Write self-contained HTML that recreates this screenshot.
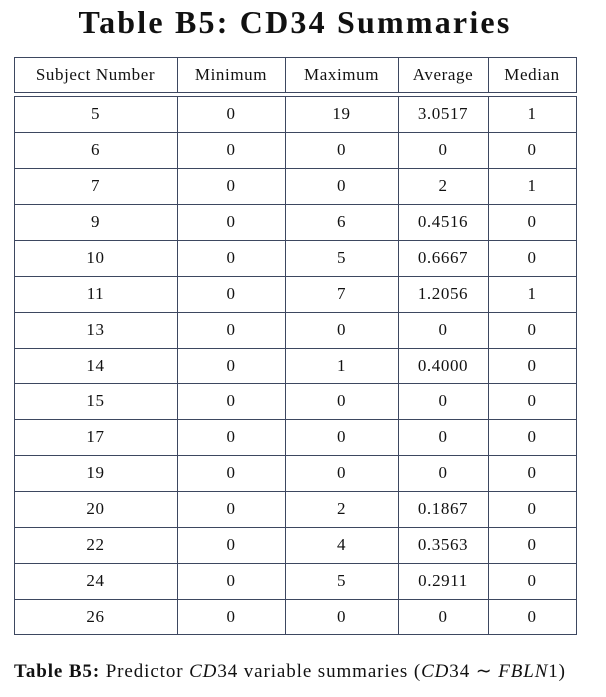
<!DOCTYPE html>
<html><head><meta charset="utf-8"><style>
body{margin:0;width:606px;height:697px;background:#fff;position:relative;font-family:"Liberation Serif",serif;color:#111;overflow:hidden}
.t{position:absolute;left:0;width:590px;text-align:center;top:4px;font-size:32px;font-weight:bold;letter-spacing:2.2px;white-space:nowrap}
.box{position:absolute;border:1.5px solid #3d4760;box-sizing:border-box}
.vl{position:absolute;width:1.5px;background:#3d4760}
.hl{position:absolute;height:1px;background:#3d4760;left:14px;width:562px}
.c{position:absolute;text-align:center;font-size:17px;line-height:36px;letter-spacing:0.6px;white-space:nowrap}
.cap{position:absolute;left:14px;top:660px;font-size:19px;letter-spacing:0.9px;white-space:nowrap}
</style></head><body>
<div class="t">Table B5: CD34 Summaries</div>
<div class="box" style="left:14px;top:57px;width:563px;height:36px"></div>
<div class="box" style="left:14px;top:96px;width:563px;height:539px"></div>
<div id="g"></div>
<div class="cap"><b>Table B5:</b> Predictor <i>CD</i>34 variable summaries (<i>CD</i>34 ∼ <i>FBLN</i>1)</div>
<script>
const headers=["Subject Number","Minimum","Maximum","Average","Median"];
const subjects=["5","6","7","9","10","11","13","14","15","17","19","20","22","24","26"];
const minimums=["0","0","0","0","0","0","0","0","0","0","0","0","0","0","0"];
const maximums=["19","0","0","6","5","7","0","1","0","0","0","2","4","5","0"];
const averages=["3.0517","0","2","0.4516","0.6667","1.2056","0","0.4000","0","0","0","0.1867","0.3563","0.2911","0"];
const medians=["1","0","1","0","0","1","0","0","0","0","0","0","0","0","0"];
const xs=[14,177,285,398,488,576];
const g=document.getElementById('g');
for(let i=1;i<xs.length-1;i++){
 for(const [top,h] of [[57,36],[96,539]]){
  const v=document.createElement('div');v.className='vl';
  
  
  v.style.left=(xs[i]-0.5)+'px';v.style.top=top+'px';v.style.height=h+'px';g.appendChild(v);
 }
}
function cell(txt,col,top,name){
 const d=document.createElement('div');d.className='c';
 
 
 d.style.left=xs[col]+'px';d.style.width=(xs[col+1]-xs[col])+'px';d.style.top=top+'px';
 d.textContent=txt;g.appendChild(d);
}
headers.forEach((h,j)=>cell(h,j,57,'header-cell'));
const rh=539/subjects.length;
subjects.forEach((s,i)=>{
 const top=96+i*rh;
 if(i>0){const l=document.createElement('div');l.className='hl';
  
  
  l.style.top=top+'px';g.appendChild(l);}
 [s,minimums[i],maximums[i],averages[i],medians[i]].forEach((v,j)=>cell(v,j,top,'table-cell'));
});
</script>
</body></html>
